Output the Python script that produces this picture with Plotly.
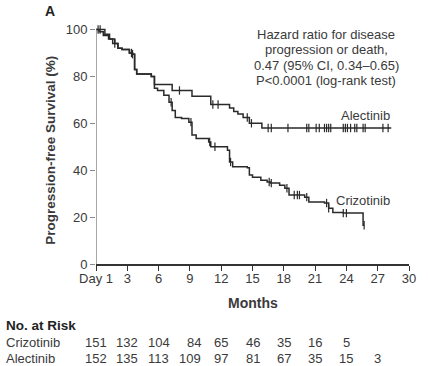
import numpy as np
import plotly.graph_objects as go

# ---------------- data ----------------
alec_t = [0, 0.85, 1.3, 1.8, 2.1, 2.5, 3.2, 3.5, 3.7, 3.9, 5.3, 5.6, 7.3, 9.2, 11.0,
          12.8, 13.2, 13.6, 14.1, 14.7, 15.9, 28.3]
alec_s = [100, 98, 96, 94, 92, 91.5, 90, 89.5, 83, 81, 80, 76.5, 74, 71.5, 68,
          66.5, 65, 64, 62.5, 60, 58, 58]
alec_cens = [0.4, 1.8, 3.4, 8.0, 11.2, 11.7, 14.5, 14.9, 16.5, 16.8, 18.4, 20.2, 20.4,
             21.1, 21.4, 21.9, 22.1, 22.3, 22.5, 23.7, 23.9, 24.1, 24.4, 24.8, 25.0,
             25.6, 25.8, 27.5, 28.0]

criz_t = [0, 0.3, 0.7, 1.2, 1.6, 2.1, 2.5, 3.2, 3.5, 3.7, 3.9, 5.3, 5.6, 5.9, 6.5, 7.0,
          7.3, 7.6, 8.2, 8.9, 9.2, 9.6, 10.8, 11.0, 12.6, 12.8, 13.1, 14.5, 14.7, 15.0,
          15.8, 16.4, 16.7, 17.6, 18.1, 18.5, 20.0, 20.4, 21.9, 22.3, 22.7, 23.7, 25.6, 25.7]
criz_s = [100, 99, 97.5, 96, 94, 92, 91.5, 90, 89.5, 83, 81, 80, 75, 74, 72, 69,
          65.5, 62.5, 62, 60.5, 55, 53.5, 52, 50, 48.5, 43.5, 41.5, 41, 38, 37,
          35.7, 35, 34.5, 33.6, 32.3, 29.4, 28.5, 26.4, 26, 23.8, 22, 21.7, 16.5, 16.5]
criz_cens = [0.2, 3.5, 7.2, 9.1, 10.9, 11.4, 12.9, 16.6, 16.8, 18.3, 19.0, 19.3, 19.5,
             20.2, 22.1, 22.3, 23.7, 24.0, 25.7]

x_ticks = [0, 3, 6, 9, 12, 15, 18, 21, 24, 27, 30]
x_ticktext = ["Day 1", "3", "6", "9", "12", "15", "18", "21", "24", "27", "30"]
y_ticks = [0, 20, 40, 60, 80, 100]

risk_months = [0, 3, 6, 9, 12, 15, 18, 21, 24, 27]
risk_criz = [151, 132, 104, 84, 65, 46, 35, 16, 5]
risk_alec = [152, 135, 113, 109, 97, 81, 67, 35, 15, 3]

hazard_lines = ["Hazard ratio for disease", "progression or death,",
                "0.47 (95% CI, 0.34\u20130.65)", "P<0.0001 (log-rank test)"]

# ---------------- layout geometry ----------------
W, H = 428, 366
L, R, T, B = 96, 14, 26, 102
PW, PH = W - L - R, H - T - B
FONT = "Liberation Sans, Arial, sans-serif"
TXT = "#3a3a3a"
LINE = "#2a2a2a"


def py(p):  # pixel y -> paper y
    return (H - B - p) / PH


def px(p):  # pixel x -> paper x
    return (p - L) / PW


def step_at(ts, ss, t):
    i = np.searchsorted(np.array(ts), t, side="right") - 1
    return float(np.array(ss)[i])


fig = go.Figure()
for ts, ss in [(alec_t, alec_s), (criz_t, criz_s)]:
    fig.add_trace(go.Scatter(x=ts, y=ss, mode="lines", line=dict(color=LINE, width=1.5, shape="hv"),
                             hoverinfo="skip", showlegend=False))
for ts, ss, cs in [(alec_t, alec_s, alec_cens), (criz_t, criz_s, criz_cens)]:
    fig.add_trace(go.Scatter(x=cs, y=[step_at(ts, ss, c) for c in cs], mode="markers",
                             marker=dict(symbol="line-ns", size=6, line=dict(color=LINE, width=1.2)),
                             hoverinfo="skip", showlegend=False, cliponaxis=False))

# y axis line drawn from 0 to 100
fig.add_shape(type="line", xref="x", yref="y", x0=0, x1=0, y0=0, y1=100,
              line=dict(color="#8a8a8a", width=1.5), layer="above")


def txt(text, x, y, xanchor="center", size=13, color=TXT, xref="paper", **kw):
    return dict(text=text, x=x, y=y, xref=xref, yref="paper", xanchor=xanchor, yanchor="middle",
                showarrow=False, font=dict(size=size, color=color, family=FONT), **kw)


ann = []
ann.append(txt("<b>A</b>", px(49), py(11), size=14, color="#222"))
for i, line in enumerate(hazard_lines):
    ann.append(txt(line, px(330), py(35 + 15 * i)))
ann.append(txt("Alectinib", px(397), py(115), xanchor="right"))
ann.append(txt("Crizotinib", px(397), py(200), xanchor="right"))
ann.append(txt("<b>Progression-free Survival (%)</b>", px(49), py(150), size=13.5, textangle=-90))
ann.append(txt("<b>Months</b>", px(255), py(303), size=14))
ann.append(txt("<b>No. at Risk</b>", px(3), py(325), xanchor="left", size=13.5, color="#222"))
ann.append(txt("Crizotinib", px(3), py(342), xanchor="left"))
ann.append(txt("Alectinib", px(3), py(358), xanchor="left"))
for m, v in zip(risk_months, risk_criz):
    ann.append(txt(str(v), m, py(342), xref="x", xshift=4 if m == 9 else 0))
for m, v in zip(risk_months, risk_alec):
    ann.append(txt(str(v), m, py(358), xref="x"))

fig.update_layout(
    width=W, height=H, margin=dict(l=L, r=R, t=T, b=B, pad=0),
    paper_bgcolor="white", plot_bgcolor="white",
    font=dict(family=FONT, size=13, color=TXT),
    annotations=ann,
    xaxis=dict(range=[0, 30], tickvals=x_ticks, ticktext=x_ticktext, showgrid=False,
               zeroline=False, showline=True, linecolor="#333", linewidth=1.5,
               ticks="outside", ticklen=5, tickcolor="#333", tickwidth=1.2,
               ticklabelstandoff=-3,
               tickfont=dict(size=13, color=TXT, family=FONT), fixedrange=True),
    yaxis=dict(range=[0, 101.5], tickvals=y_ticks, showgrid=False, zeroline=False,
               showline=False, ticks="outside", ticklen=5, tickcolor="#8a8a8a", tickwidth=1.2,
               tickfont=dict(size=13, color=TXT, family=FONT), fixedrange=True),
)

fig.write_html("out.html", config={"displayModeBar": False},
               post_script="document.body.style.margin='0';")
